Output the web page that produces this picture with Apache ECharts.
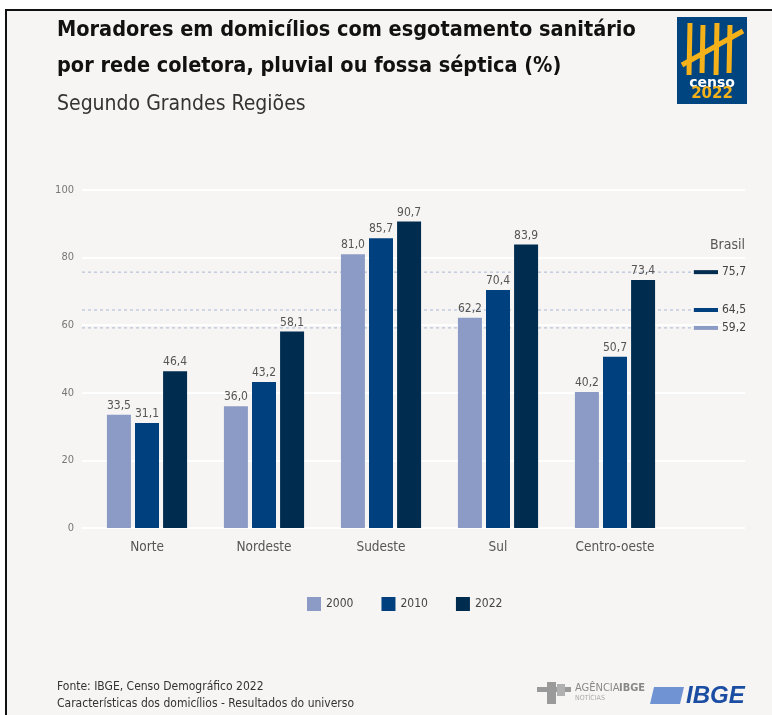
<!DOCTYPE html>
<html><head><meta charset="utf-8">
<script src="https://cdn.jsdelivr.net/npm/echarts@6/dist/echarts.min.js"></script>
<style>html,body{margin:0;padding:0;background:#fff;}#c{width:772px;height:715px;}</style>
</head><body><div id="c"></div>
<script>
const categories = ['Norte', 'Nordeste', 'Sudeste', 'Sul', 'Centro-oeste'];
const years = ['2000', '2010', '2022'];
const values2000 = [33.5, 36.0, 81.0, 62.2, 40.2];
const values2010 = [31.1, 43.2, 85.7, 70.4, 50.7];
const values2022 = [46.4, 58.1, 90.7, 83.9, 73.4];
const brasil = [59.2, 64.5, 75.7];
const yTicks = [0, 20, 40, 60, 80, 100];
const colors = ['#8b9bc5', '#00407e', '#002c50'];

const FONT = '"Liberation Sans Narrow", "DejaVu Sans Condensed", "Roboto", sans-serif';
const fmt = v => v.toFixed(1).replace('.', ',');
const seriesVals = [values2000, values2010, values2022];

const chart = echarts.init(document.getElementById('c'));
const series = [];
series.push({ type: 'line', xAxisIndex: 0, yAxisIndex: 0, data: [], silent: true });
years.forEach((y, i) => {
  series.push({
    name: y, type: 'bar', xAxisIndex: 1, yAxisIndex: 1, z: 3,
    data: seriesVals[i], barWidth: 24, barGap: '17%',
    itemStyle: { color: colors[i] },
    label: { show: true, position: 'top', distance: 3, formatter: p => fmt(p.value),
      color: '#555', fontSize: 12, fontFamily: FONT }
  });
});
years.forEach((y, i) => {
  series.push({
    name: 'Brasil ' + y, type: 'line', xAxisIndex: 2, yAxisIndex: 2, z: 1, silent: true,
    data: [[0, brasil[i]], [1, brasil[i]]], symbol: 'none',
    lineStyle: { color: '#a9b8d6', width: 1, type: [3, 3] }
  });
  series.push({
    name: 'Brasil marker ' + y, type: 'line', xAxisIndex: 2, yAxisIndex: 2, z: 4, silent: true,
    data: [[0.962, brasil[i]], [1, brasil[i]]], symbol: 'none',
    lineStyle: { color: colors[i], width: 4, cap: 'butt' },
    endLabel: { show: true, formatter: p => fmt(p.value[1]), distance: 4,
      color: '#444', fontSize: 12, fontFamily: FONT }
  });
});

const plotTop = 190, plotH = 338;
const option = {
  backgroundColor: '#fff',
  animation: false,
  title: [
    { text: 'Moradores em domicílios com esgotamento sanitário\npor rede coletora, pluvial ou fossa séptica (%)',
      left: 52, top: 7, textStyle: { fontFamily: FONT, fontSize: 21.5, fontWeight: 'bold', color: '#111', lineHeight: 36 } },
    { text: 'Segundo Grandes Regiões', left: 52, top: 89,
      textStyle: { fontFamily: FONT, fontSize: 21, fontWeight: 'normal', color: '#333' } }
  ],
  legend: {
    data: years, top: 592, left: 302, icon: 'rect', itemWidth: 14, itemHeight: 14, itemGap: 28,
    textStyle: { fontFamily: FONT, fontSize: 12, color: '#444' }
  },
  grid: [
    { left: 82, width: 663, top: plotTop, height: plotH },
    { left: 88.5, width: 585, top: plotTop, height: plotH },
    { left: 82, width: 636, top: plotTop, height: plotH }
  ],
  xAxis: [
    { gridIndex: 0, type: 'value', show: false, min: 0, max: 1 },
    { gridIndex: 1, type: 'category', data: categories,
      axisLine: { show: false }, axisTick: { show: false },
      axisLabel: { margin: 12, color: '#555', fontSize: 13.5, fontFamily: FONT } },
    { gridIndex: 2, type: 'value', show: false, min: 0, max: 1 }
  ],
  yAxis: [
    { gridIndex: 0, type: 'value', min: yTicks[0], max: yTicks[yTicks.length - 1], interval: yTicks[1] - yTicks[0],
      axisLine: { show: false }, axisTick: { show: false },
      axisLabel: { color: '#777', fontSize: 11, fontFamily: FONT, margin: 8 },
      splitLine: { lineStyle: { color: '#ffffff', width: 2 } } },
    { gridIndex: 1, type: 'value', min: 0, max: 100, show: false },
    { gridIndex: 2, type: 'value', min: 0, max: 100, show: false }
  ],
  series: series,
  graphic: [
    { type: 'rect', z: -10, shape: { x: 6, y: 10, width: 780, height: 720 },
      style: { fill: '#f6f5f3', stroke: '#111', lineWidth: 2 } },
    { type: 'text', right: 27, top: 238, style: { text: 'Brasil', fill: '#555', font: '14px ' + FONT } },
    { type: 'group', left: 677, top: 17, children: [
      { type: 'rect', shape: { x: 0, y: 0, width: 70, height: 87 }, style: { fill: '#00457f' } },
      { type: 'line', shape: { x1: 13, y1: 6, x2: 12, y2: 58 }, style: { stroke: '#f4b11a', lineWidth: 5 } },
      { type: 'line', shape: { x1: 26, y1: 8, x2: 25, y2: 56 }, style: { stroke: '#f4b11a', lineWidth: 5 } },
      { type: 'line', shape: { x1: 40, y1: 6, x2: 39, y2: 58 }, style: { stroke: '#f4b11a', lineWidth: 5 } },
      { type: 'line', shape: { x1: 53, y1: 8, x2: 52, y2: 56 }, style: { stroke: '#f4b11a', lineWidth: 5 } },
      { type: 'line', shape: { x1: 5, y1: 48, x2: 66, y2: 14 }, style: { stroke: '#f4b11a', lineWidth: 5 } },
      { type: 'text', x: 35, y: 59, style: { text: 'censo', fill: '#ffffff', font: 'bold 14px "DejaVu Sans"', textAlign: 'center' } },
      { type: 'text', x: 35, y: 70, style: { text: '2022', fill: '#f4b11a', font: 'bold 15px "DejaVu Sans"', textAlign: 'center' } }
    ] },
    { type: 'text', left: 57, top: 681, style: { text: 'Fonte: IBGE, Censo Demográfico 2022', fill: '#333', font: '12px ' + FONT } },
    { type: 'text', left: 57, top: 698, style: { text: 'Características dos domicílios - Resultados do universo', fill: '#333', font: '12px ' + FONT } },
    { type: 'group', left: 537, top: 682, children: [
      { type: 'rect', shape: { x: 2, y: 5, width: 34, height: 5 }, style: { fill: '#9a9a9a' } },
      { type: 'rect', shape: { x: 12, y: 0, width: 9, height: 22 }, style: { fill: '#9a9a9a' } },
      { type: 'rect', shape: { x: 22, y: 2, width: 8, height: 12 }, style: { fill: '#b0b0b0' } },
      { type: 'text', x: 40, y: 1, style: { text: 'AGÊNCIA', fill: '#888', font: '11px ' + FONT } },
      { type: 'text', x: 84, y: 1, style: { text: 'IBGE', fill: '#888', font: 'bold 11px ' + FONT } },
      { type: 'text', x: 40, y: 13, style: { text: 'NOTÍCIAS', fill: '#aaa', font: '7px ' + FONT } }
    ] },
    { type: 'group', left: 650, top: 684, children: [
      { type: 'polygon', shape: { points: [[4, 0], [34, 0], [30, 17], [0, 17]] }, style: { fill: '#6f93d3' } },
      { type: 'text', x: 36, y: -3, style: { text: 'IBGE', fill: '#1b4ea3', font: 'italic bold 24px "Liberation Sans", Arial' } }
    ] }
  ]
};
chart.setOption(option);
</script></body></html>
